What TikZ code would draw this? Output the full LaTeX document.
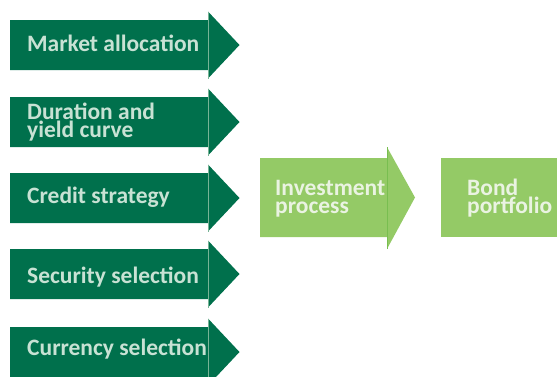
\documentclass[tikz,border=0pt]{standalone}
\usepackage{fontspec}
\setmainfont{Carlito}
\definecolor{dgreen}{RGB}{0,112,76}
\definecolor{dtext}{RGB}{200,226,212}
\definecolor{lgreen}{RGB}{148,202,102}
\definecolor{ltext}{RGB}{234,243,226}
\definecolor{dline}{RGB}{120,180,150}
\definecolor{lline}{RGB}{120,190,80}
\tikzset{
  darrow/.style={fill=dgreen},
  larrow/.style={fill=lgreen},
  dlabel/.style={anchor=base west,inner sep=0pt,text=dtext,font=\fontsize{23.5}{18}\selectfont\bfseries,align=left},
  llabel/.style={anchor=base west,inner sep=0pt,text=ltext,font=\fontsize{23.5}{18}\selectfont\bfseries,align=left},
}
\begin{document}
\begin{tikzpicture}[x=1pt,y=-1pt]
\useasboundingbox (0,0) rectangle (557,376);
% dark arrows: rows with rect top t, height 50, center t+25
\foreach \t in {20,97,173,249,327}{
  \path[darrow] (10,\t) -- (208,\t) -- (208,\t-8.5) -- (239.5,\t+25) -- (208,\t+58.5) -- (208,\t+50) -- (10,\t+50) -- cycle;
  \draw[dline,line width=0.6pt] (208,\t-8.5) -- (208,\t+58.5);
}
\node[dlabel] (ma) at (27,51.5) {Market allocation};
\node[dlabel] (dy) at (27,137) {Duration and\\yield curve};
\node[dlabel] (cs) at (27,203.5) {Credit strategy};
\node[dlabel] (ss) at (27,283) {Security selection};
\node[dlabel] (cu) at (27,355.5) {Currency selection};
% investment process arrow
\path[larrow] (260,158) -- (387,158) -- (387,147) -- (415,197.5) -- (387,249) -- (387,237) -- (260,237) -- cycle;
\draw[lline,line width=0.8pt] (387,147) -- (387,249);
\node[llabel] (ip) at (275,213) {Investment\\process};
% bond portfolio box
\path[larrow] (441,158) rectangle (557,237);
\node[llabel] (bp) at (467,213) {Bond\\portfolio};
\end{tikzpicture}
\end{document}
